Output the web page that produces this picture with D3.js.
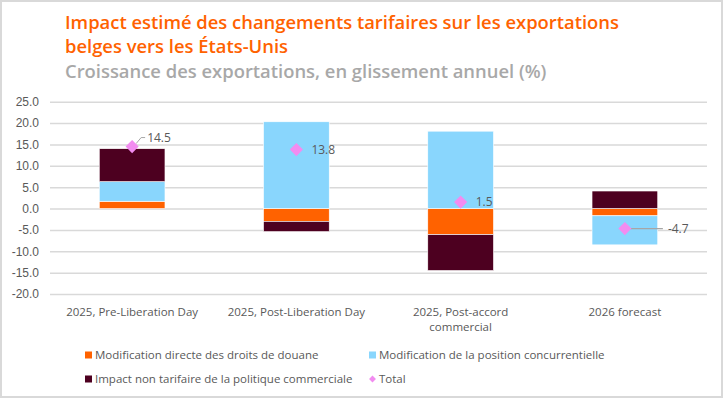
<!DOCTYPE html>
<html>
<head>
<meta charset="utf-8">
<script src="https://cdn.jsdelivr.net/npm/d3@7/dist/d3.min.js"></script>
<style>
  body { margin: 0; background: #fff; }
  svg { display: block; font-family: "Open Sans", sans-serif; }
  .tick text { fill: #595959; font-size: 12px; }
</style>
</head>
<body>
<svg id="chart" width="723" height="398"></svg>
<script>
// chart data
var categories = ["2025, Pre-Liberation Day", "2025, Post-Liberation Day", "2025, Post-accord commercial", "2026 forecast"];
var directTariff = [1.7, -3.0, -6.1, -1.7];
var competitive = [4.6, 20.3, 18.1, -6.8];
var nonTariff = [7.7, -2.4, -8.4, 4.1];
var totals = [14.5, 13.8, 1.5, -4.7];
var yTicks = [25, 20, 15, 10, 5, 0, -5, -10, -15, -20];

var seriesNames = ["Modification directe des droits de douane", "Modification de la position concurrentielle", "Impact non tarifaire de la politique commerciale"];
var seriesKeys = ["direct", "comp", "nontar"];
var colors = { direct: "#FF6200", comp: "#89D6FD", nontar: "#4D0020" };
var pink = "#F28CF0";

var svg = d3.select("#chart");

// outer frame
svg.append("rect")
    .attr("x", 1).attr("y", 1).attr("width", 721).attr("height", 396)
    .attr("fill", "none").attr("stroke", "#d9d9d9").attr("stroke-width", 2);

// titles
svg.append("text").attr("x", 65).attr("y", 29)
    .attr("fill", "#FF6200").attr("font-size", "18.4px").attr("font-weight", 600)
    .text("Impact estimé des changements tarifaires sur les exportations");
svg.append("text").attr("x", 65).attr("y", 53)
    .attr("fill", "#FF6200").attr("font-size", "18.4px").attr("font-weight", 600)
    .text("belges vers les États-Unis");
svg.append("text").attr("x", 65).attr("y", 78)
    .attr("fill", "#A8A8A8").attr("font-size", "18.4px").attr("font-weight", 600)
    .text("Croissance des exportations, en glissement annuel (%)");

var data = categories.map(function(c, i) {
    return { cat: c, direct: directTariff[i], comp: competitive[i], nontar: nonTariff[i], total: totals[i] };
});

var x = d3.scaleBand()
    .domain(categories)
    .range([50, 707])
    .paddingInner(0.6)
    .paddingOuter(0.3);

var y = d3.scaleLinear()
    .domain([-20, 25])
    .range([294, 101.7]);

// gridlines + y labels
var yAxis = svg.append("g")
    .attr("transform", "translate(50,0)")
    .call(d3.axisLeft(y).tickValues(yTicks).tickFormat(d3.format(".1f")).tickSize(-657).tickPadding(11));
yAxis.select(".domain").remove();
yAxis.selectAll(".tick line").attr("stroke", "#d9d9d9").attr("stroke-width", 1.5);
yAxis.selectAll(".tick text").text(function(d) { return d3.format(".1f")(d).replace("−", "-"); });

// stacked bars, positives up / negatives down like Excel
var stack = d3.stack().keys(seriesKeys).offset(d3.stackOffsetDiverging);
var layers = stack(data);

svg.append("g").selectAll("g")
    .data(layers)
  .enter().append("g")
    .attr("fill", function(d) { return colors[d.key]; })
  .selectAll("rect")
    .data(function(d) { return d; })
  .enter().append("rect")
    .attr("x", function(d) { return x(d.data.cat); })
    .attr("width", x.bandwidth())
    .attr("y", function(d) { return y(d[1]); })
    .attr("height", function(d) { return y(d[0]) - y(d[1]); })
    .attr("stroke", "#fff")
    .attr("stroke-width", 0.6);

// total markers
var cx = function(d) { return x(d.cat) + x.bandwidth() / 2; };
var mk = svg.append("g");

// leader lines for labels that are offset
var first = data[0], last = data[3];
mk.append("path")
    .attr("d", "M" + (cx(first) + 4) + "," + (y(first.total) - 3) + " L" + (cx(first) + 9) + "," + (y(first.total) - 9) + " L" + (cx(first) + 13) + "," + (y(first.total) - 9))
    .attr("fill", "none").attr("stroke", "#a6a6a6").attr("stroke-width", 1);
mk.append("line")
    .attr("x1", cx(last)).attr("x2", cx(last) + 38)
    .attr("y1", y(last.total)).attr("y2", y(last.total))
    .attr("stroke", "#a6a6a6").attr("stroke-width", 1.2);

mk.selectAll("path.total")
    .data(data)
  .enter().append("path")
    .attr("class", "total")
    .attr("d", d3.symbol().type(d3.symbolDiamond2).size(110))
    .attr("transform", function(d) { return "translate(" + cx(d) + "," + y(d.total) + ")"; })
    .attr("fill", pink);

var labelOffset = [[15, -9], [15, 0], [15, 0], [43, 0]];
mk.selectAll("text")
    .data(data)
  .enter().append("text")
    .attr("x", function(d, i) { return cx(d) + labelOffset[i][0]; })
    .attr("y", function(d, i) { return y(d.total) + labelOffset[i][1]; })
    .attr("dy", "0.35em")
    .attr("fill", "#595959")
    .attr("font-size", "12px")
    .text(function(d) { return d3.format(".1f")(d.total).replace("−", "-"); });

// category labels (one text per line)
var labelLines = categories.map(function(d) {
    return d === "2025, Post-accord commercial" ? ["2025, Post-accord", "commercial"] : [d];
});
var xl = svg.append("g");
categories.forEach(function(d, i) {
    labelLines[i].forEach(function(l, j) {
        xl.append("text")
            .attr("x", x(d) + x.bandwidth() / 2)
            .attr("y", 316 + j * 15)
            .attr("text-anchor", "middle")
            .attr("fill", "#595959")
            .attr("font-size", "11.5px")
            .text(l);
    });
});

// legend
var legendItems = [
    { name: seriesNames[0], color: colors.direct, x: 85, y: 355, shape: "rect" },
    { name: seriesNames[1], color: colors.comp, x: 369, y: 355, shape: "rect" },
    { name: seriesNames[2], color: colors.nontar, x: 85, y: 379, shape: "rect" },
    { name: "Total", color: pink, x: 369, y: 379, shape: "diamond" }
];
var lg = svg.append("g").selectAll("g")
    .data(legendItems)
  .enter().append("g")
    .attr("transform", function(d) { return "translate(" + d.x + "," + d.y + ")"; });
lg.each(function(d) {
    var g = d3.select(this);
    if (d.shape === "rect") {
        g.append("rect").attr("x", 0).attr("y", -3.5).attr("width", 7).attr("height", 7).attr("fill", d.color);
    } else {
        g.append("path").attr("d", d3.symbol().type(d3.symbolDiamond2).size(30))
            .attr("transform", "translate(3.5,0)").attr("fill", d.color);
    }
    g.append("text").attr("x", 10).attr("dy", "0.35em")
        .attr("fill", "#595959").attr("font-size", "11.5px").text(d.name);
});
</script>
</body>
</html>
